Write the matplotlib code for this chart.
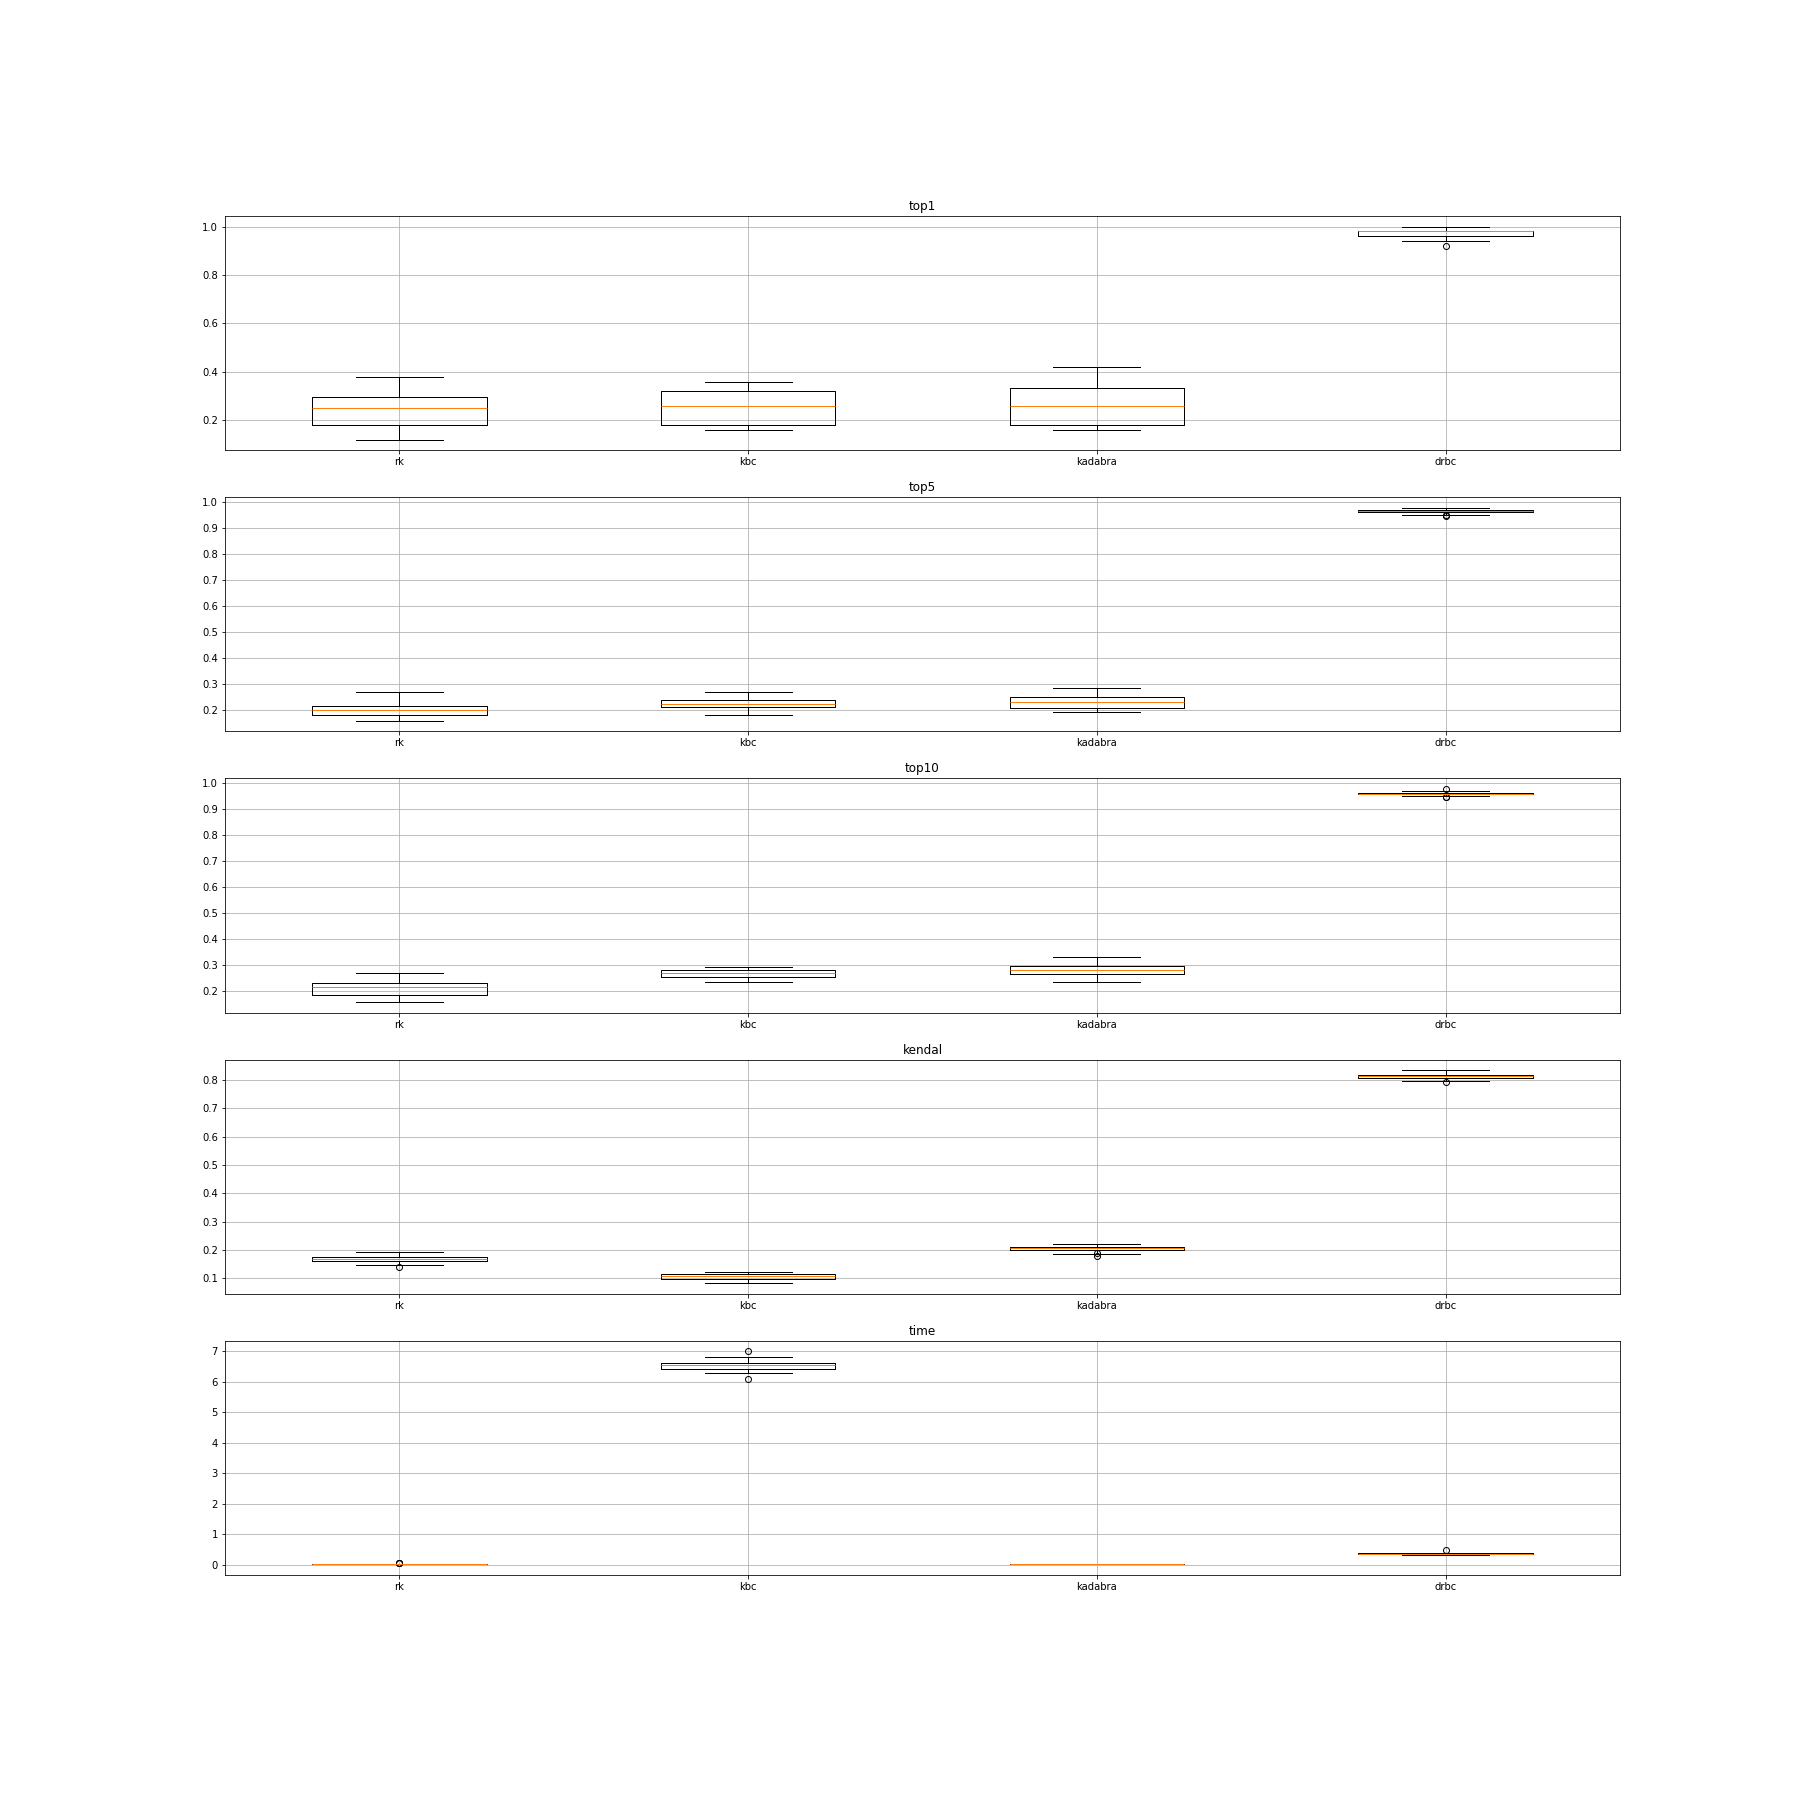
import matplotlib
matplotlib.use("Agg")
import matplotlib.pyplot as plt
from matplotlib.ticker import MultipleLocator

methods = ["rk", "kbc", "kadabra", "drbc"]
metrics = ["top1", "top5", "top10", "kendal", "time"]
ytick_steps = [0.2, 0.1, 0.1, 0.1, 1.0]

# per metric: whisker low, q1, median, q3, whisker high, fliers (one list per method)
top1_lo = [0.12, 0.16, 0.16, 0.94]
top1_q1 = [0.18, 0.18, 0.18, 0.962]
top1_med = [0.25, 0.258, 0.258, 0.983]
top1_q3 = [0.298, 0.32, 0.332, 0.983]
top1_hi = [0.38, 0.357, 0.42, 1.0]
top1_fl = [[], [], [], [0.92]]

top5_lo = [0.158, 0.181, 0.192, 0.95]
top5_q1 = [0.181, 0.21, 0.206, 0.96]
top5_med = [0.2, 0.223, 0.231, 0.965]
top5_q3 = [0.215, 0.238, 0.25, 0.969]
top5_hi = [0.267, 0.267, 0.285, 0.977]
top5_fl = [[], [], [], [0.948, 0.947]]

top10_lo = [0.158, 0.234, 0.234, 0.95]
top10_q1 = [0.185, 0.254, 0.265, 0.958]
top10_med = [0.215, 0.269, 0.28, 0.958]
top10_q3 = [0.231, 0.28, 0.296, 0.962]
top10_hi = [0.27, 0.292, 0.33, 0.969]
top10_fl = [[], [], [], [0.977, 0.945, 0.946]]

kendal_lo = [0.147, 0.082, 0.186, 0.797]
kendal_q1 = [0.161, 0.096, 0.2, 0.807]
kendal_med = [0.168, 0.107, 0.206, 0.814]
kendal_q3 = [0.175, 0.114, 0.211, 0.817]
kendal_hi = [0.193, 0.122, 0.221, 0.835]
kendal_fl = [[0.139], [], [0.19, 0.178], [0.793]]

time_lo = [0.02, 6.28, 0.015, 0.33]
time_q1 = [0.025, 6.41, 0.018, 0.345]
time_med = [0.03, 6.54, 0.02, 0.355]
time_q3 = [0.035, 6.61, 0.022, 0.38]
time_hi = [0.04, 6.8, 0.025, 0.38]
time_fl = [[0.045, 0.055, 0.06], [7.0, 6.1], [], [0.47]]

panels = [
    (top1_lo, top1_q1, top1_med, top1_q3, top1_hi, top1_fl),
    (top5_lo, top5_q1, top5_med, top5_q3, top5_hi, top5_fl),
    (top10_lo, top10_q1, top10_med, top10_q3, top10_hi, top10_fl),
    (kendal_lo, kendal_q1, kendal_med, kendal_q3, kendal_hi, kendal_fl),
    (time_lo, time_q1, time_med, time_q3, time_hi, time_fl),
]

fig, axes = plt.subplots(5, 1, figsize=(25, 25), dpi=72)
fig.subplots_adjust(left=0.125, right=0.9, top=0.88, bottom=0.125, hspace=0.2)

for ax, name, step, (lo, q1, med, q3, hi, fl) in zip(axes, metrics, ytick_steps, panels):
    stats = []
    for i, m in enumerate(methods):
        stats.append(dict(label=m, whislo=lo[i], q1=q1[i], med=med[i],
                          q3=q3[i], whishi=hi[i], fliers=fl[i]))
    ax.bxp(stats, widths=0.5)
    ax.set_title(name)
    ax.yaxis.set_major_locator(MultipleLocator(step))
    ax.grid(True)

fig.savefig("out.png", dpi=72)
